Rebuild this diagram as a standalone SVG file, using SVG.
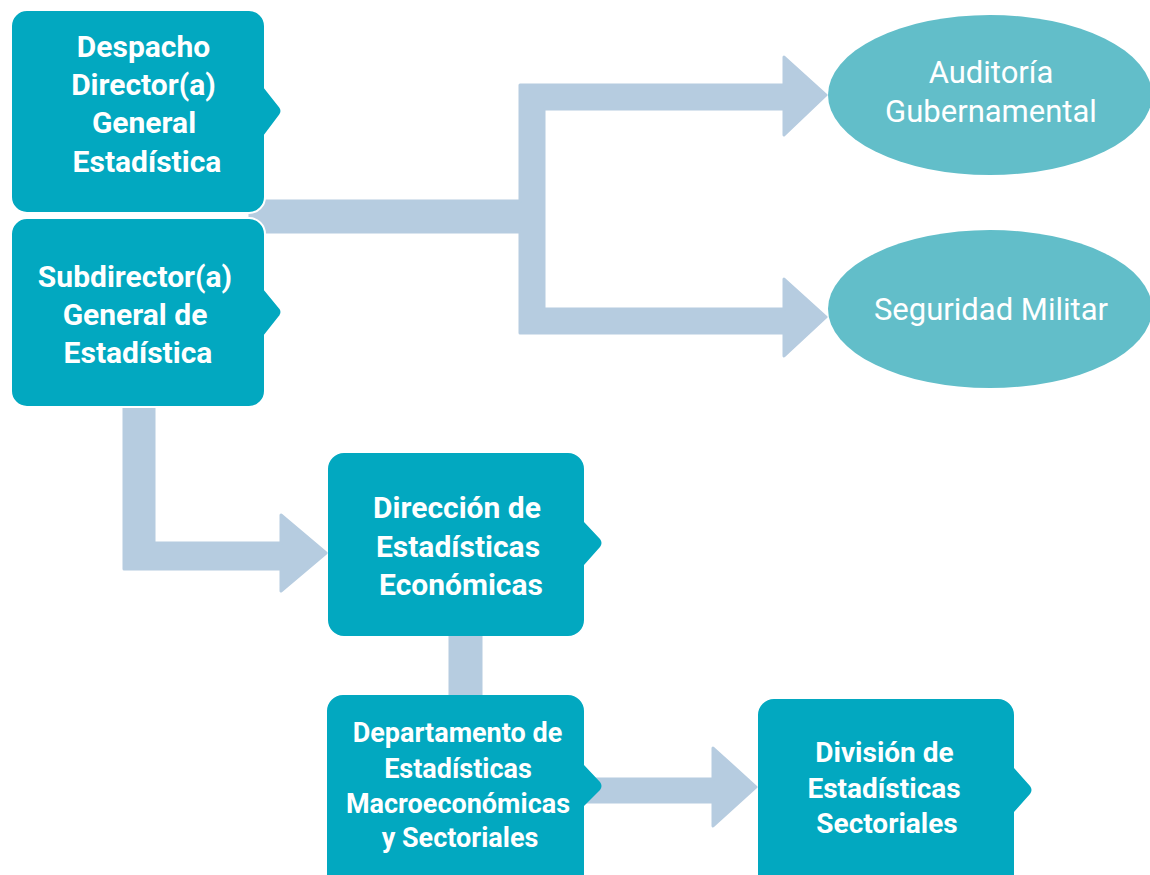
<svg xmlns="http://www.w3.org/2000/svg" width="1150" height="875" viewBox="0 0 1150 875">
<style>
.box{fill:#02a8c0;stroke:#ffffff;stroke-width:2}
.ell{fill:#62bec9}
.con{fill:#b6cce0;stroke:#b6cce0;stroke-width:3;stroke-linejoin:round}
.t{font-family:Roboto,"Liberation Sans",sans-serif;font-weight:bold;fill:#ffffff;text-anchor:middle}
.e{font-family:Roboto,"Liberation Sans",sans-serif;font-weight:normal;fill:#ffffff;text-anchor:middle;font-size:31px}
</style>
<rect width="1150" height="875" fill="#ffffff"/>
<g id="connectors">
<path class="con" d="M 250,201 H 520 V 85 H 784 V 57 L 826,95 L 784,135 V 109 H 544 V 309 H 784 V 279 L 826,317 L 784,356 V 333 H 520 V 232 H 250 Z"/>
<path class="con" d="M 124,406 H 154 V 543 H 281 V 515 L 326,553 L 281,591 V 569 H 124 Z"/>
<rect class="con" x="450" y="630" width="31" height="70"/>
<path class="con" d="M 580,779 H 713 V 748 L 756,787 L 713,826 V 802 H 580 Z"/>
</g>
<g id="n1">
<path class="box" d="M 27,10 H 249 A 16,16 0 0 1 265,26 V 88 L 280,107 Q 283,111 280,115 L 265,135 V 197 A 16,16 0 0 1 249,213 H 27 A 16,16 0 0 1 11,197 V 26 A 16,16 0 0 1 27,10 Z"/>
<text class="t" font-size="30" x="143.5" y="57">Despacho</text>
<text class="t" font-size="30" x="143.5" y="95">Director(a)</text>
<text class="t" font-size="30" x="144" y="133">General</text>
<text class="t" font-size="30" x="147" y="172">Estadística</text>
</g>
<g id="n2">
<path class="box" d="M 27,218 H 249 A 16,16 0 0 1 265,234 V 290 L 280,308 Q 283,312 280,316 L 265,335 V 391 A 16,16 0 0 1 249,407 H 27 A 16,16 0 0 1 11,391 V 234 A 16,16 0 0 1 27,218 Z"/>
<text class="t" font-size="30" x="135" y="287">Subdirector(a)</text>
<text class="t" font-size="30" x="135" y="325">General de</text>
<text class="t" font-size="30" x="138" y="363">Estadística</text>
</g>
<g id="n3">
<ellipse class="ell" cx="990" cy="95" rx="162" ry="80"/>
<text class="e" x="991" y="83">Auditoría</text>
<text class="e" x="991" y="122">Gubernamental</text>
</g>
<g id="n4">
<ellipse class="ell" cx="990" cy="309" rx="162" ry="79"/>
<text class="e" x="991" y="320">Seguridad Militar</text>
</g>
<g id="n5">
<path class="box" stroke="none" d="M 344,453 H 568 A 16,16 0 0 1 584,469 V 522 L 600,539 Q 603,543 600,547 L 584,565 V 620 A 16,16 0 0 1 568,636 H 344 A 16,16 0 0 1 328,620 V 469 A 16,16 0 0 1 344,453 Z" style="stroke:none"/>
<text class="t" font-size="30" x="457" y="518">Dirección de</text>
<text class="t" font-size="30" x="458" y="557">Estadísticas</text>
<text class="t" font-size="30" x="461" y="595">Económicas</text>
</g>
<g id="n6">
<path class="box" d="M 343,695 H 568 A 16,16 0 0 1 584,711 V 765 L 600,782 Q 603,786 600,790 L 584,806 V 895 H 327 V 711 A 16,16 0 0 1 343,695 Z" style="stroke:none"/>
<text class="t" font-size="27" x="457.5" y="742">Departamento de</text>
<text class="t" font-size="27" x="458" y="778">Estadísticas</text>
<text class="t" font-size="27" x="458" y="813">Macroeconómicas</text>
<text class="t" font-size="27" x="460" y="847">y Sectoriales</text>
</g>
<g id="n7">
<path class="box" d="M 774,699 H 998 A 16,16 0 0 1 1014,715 V 768 L 1030,786 Q 1033,790 1030,794 L 1014,812 V 895 H 758 V 715 A 16,16 0 0 1 774,699 Z" style="stroke:none"/>
<text class="t" font-size="28" x="884.5" y="762">División de</text>
<text class="t" font-size="28" x="884" y="798">Estadísticas</text>
<text class="t" font-size="28" x="887" y="833">Sectoriales</text>
</g>
</svg>
